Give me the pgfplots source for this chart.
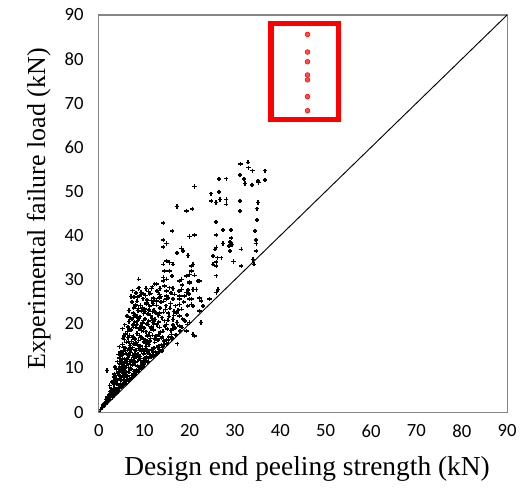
\documentclass[border=0pt]{standalone}
\usepackage{fontspec}
\setmainfont{Liberation Serif}
\newfontfamily\tickfont{Carlito}
\usepackage{pgfplots}
\pgfplotsset{compat=1.18}
\definecolor{axgray}{RGB}{134,134,134}

\pgfplotstableread{
x y
0.4 0.6
0.7 1.0
0.9 1.6
1.1 1.3
1.3 2.1
1.5 1.7
1.6 2.8
1.8 2.2
1.9 3.4
1.8 9.4
2.1 2.6
2.2 3.9
2.3 3.1
2.5 4.6
2.6 2.9
2.7 5.3
2.8 3.6
2.9 4.2
2.4 6.0
2.9 6.8
3.0 3.4
3.1 5.0
3.2 4.1
3.3 6.2
3.4 3.9
3.5 7.4
3.5 5.6
3.6 4.5
3.7 8.3
3.8 6.7
3.9 4.3
3.9 9.6
3.3 7.9
3.6 10.2
4.0 5.1
4.0 7.2
4.1 11.4
4.2 4.6
4.2 8.8
4.3 6.0
4.4 9.9
4.4 5.3
4.5 12.3
4.6 7.5
4.6 10.8
4.7 5.6
4.7 8.2
4.8 13.6
4.8 6.4
4.9 9.3
4.9 11.7
4.5 14.8
5.0 5.7
5.0 7.9
5.1 10.2
5.1 12.9
5.2 6.3
5.2 15.3
5.3 8.7
5.3 11.1
5.4 6.0
5.4 13.8
5.5 9.6
5.5 7.2
5.6 16.4
5.6 12.0
5.7 6.6
5.7 10.5
5.8 14.5
5.8 8.3
5.9 17.7
5.9 11.5
5.2 18.9
5.7 19.8
6.0 6.5
6.0 9.1
6.1 13.2
6.1 15.8
6.2 7.3
6.2 11.0
6.3 18.2
6.3 8.2
6.4 12.4
6.4 16.9
6.5 7.0
6.5 10.1
6.6 14.3
6.6 20.5
6.7 9.0
6.7 12.9
6.8 7.6
6.8 17.4
6.9 11.4
6.9 15.1
6.2 21.8
6.6 23.0
6.4 19.3
7.0 7.5
7.0 13.5
7.1 9.8
7.1 18.6
7.2 11.9
7.2 16.0
7.3 8.3
7.3 21.1
7.4 14.6
7.4 10.6
7.5 19.7
7.5 12.8
7.6 8.0
7.6 17.1
7.7 23.6
7.7 10.9
7.8 15.4
7.8 9.2
7.9 13.9
7.9 20.4
7.3 24.9
7.6 22.4
7.1 26.2
8.0 8.6
8.0 16.6
8.1 11.3
8.1 22.0
8.2 14.0
8.2 19.2
8.3 9.5
8.3 12.5
8.4 17.8
8.4 25.1
8.5 10.4
8.5 15.2
8.6 20.8
8.6 13.1
8.7 9.1
8.7 23.5
8.8 16.2
8.8 11.8
8.9 18.9
8.9 14.4
8.2 27.0
8.5 26.1
9.0 9.8
9.0 17.4
9.1 12.6
9.1 21.6
9.2 15.0
9.2 24.2
9.3 10.6
9.3 19.5
9.4 13.7
9.4 22.9
9.5 11.4
9.5 16.8
9.6 20.2
9.6 14.3
9.7 10.2
9.7 25.7
9.8 18.3
9.8 12.1
9.9 15.9
9.9 22.3
10.0 10.9
10.0 19.0
10.1 13.8
10.1 23.4
10.2 16.4
10.2 21.1
10.3 11.6
10.3 26.4
10.4 14.9
10.4 18.2
10.5 12.5
10.5 24.5
10.6 20.0
10.6 16.0
10.7 11.3
10.8 22.2
10.8 13.4
10.9 17.6
10.9 27.3
11.0 12.1
11.0 20.6
11.1 15.3
11.2 18.0
11.2 24.0
11.3 13.0
11.4 21.9
11.4 16.7
11.5 12.4
11.6 19.3
11.6 25.3
11.7 14.2
11.8 22.8
11.8 17.4
11.9 13.1
11.9 20.3
12.0 13.5
12.1 18.6
12.2 23.0
12.3 15.8
12.4 21.0
12.5 13.6
12.6 17.2
12.7 24.2
12.8 19.8
12.9 14.6
12.9 22.1
13.0 16.3
13.2 20.4
13.3 14.2
13.5 23.6
13.6 18.1
13.8 15.2
13.9 21.4
14.0 17.0
14.2 22.6
14.4 15.3
14.6 19.5
14.8 24.1
14.9 16.4
15.2 20.8
15.4 17.0
15.7 23.5
15.9 18.5
16.2 16.8
16.5 21.9
16.8 19.0
7.4 27.5
7.8 26.0
8.1 24.3
8.9 28.2
9.3 27.1
9.6 23.6
9.1 19.0
9.9 26.8
8.4 21.5
10.1 12.0
10.3 14.3
10.5 15.6
10.7 17.2
10.9 19.8
10.2 22.8
10.6 25.4
10.4 28.0
11.0 11.5
11.1 13.9
11.3 16.1
11.5 18.9
11.7 21.2
11.1 23.1
11.9 24.6
11.4 26.9
11.8 28.4
12.0 12.6
12.2 14.5
12.4 16.6
12.1 20.0
12.6 22.4
12.3 25.7
12.8 27.4
12.5 12.9
13.0 13.4
13.1 15.0
13.3 17.6
13.4 19.2
13.2 21.9
13.7 24.9
13.6 26.2
13.9 13.8
13.8 16.7
13.5 28.0
14.0 14.6
14.3 16.1
14.1 18.3
14.5 20.7
14.7 23.2
14.3 25.1
14.9 27.4
15.0 15.4
15.3 16.2
15.1 18.8
15.5 21.7
15.8 24.6
15.3 25.9
15.9 27.0
16.0 16.4
16.3 19.7
16.6 22.8
16.9 24.1
16.1 30.8
17.0 17.5
17.2 20.3
17.5 23.0
17.7 27.4
17.9 18.4
18.3 19.2
18.5 21.1
18.7 24.9
18.9 26.3
18.4 28.8
19.0 20.6
19.4 22.0
19.6 24.0
19.9 26.8
19.5 19.9
3.0 4.6
3.2 6.8
3.4 8.6
3.7 5.2
3.8 7.6
4.1 6.5
4.3 9.2
4.5 11.0
4.7 12.8
4.3 13.1
4.9 7.4
5.0 9.0
5.2 11.9
5.4 14.6
5.6 17.2
5.8 9.9
5.9 13.3
5.3 16.7
6.0 8.1
6.1 10.6
6.3 14.0
6.5 15.9
6.7 18.8
6.9 21.4
6.2 12.0
6.8 13.9
7.0 10.8
7.2 14.2
7.4 16.9
7.6 19.2
7.8 21.9
7.5 11.3
7.9 12.1
8.0 13.2
8.2 15.6
8.4 19.9
8.6 23.0
8.8 10.1
8.9 21.2
9.0 14.0
9.2 16.9
9.4 18.5
9.6 11.2
9.8 20.7
9.9 13.2
12.3 29.0
14.2 29.7
17.8 29.7
20.0 29.3
21.9 29.7
25.9 27.1
20.8 27.8
19.3 27.1
16.7 26.7
14.9 26.3
13.4 26.7
11.2 26.7
17.8 25.6
20.4 25.6
22.6 25.2
24.4 25.6
17.8 24.4
20.8 24.0
15.3 22.5
17.1 22.5
18.2 23.3
22.2 22.9
17.8 21.8
16.4 21.0
20.0 20.3
22.5 20.3
17.8 19.5
16.4 18.8
19.3 18.4
20.8 17.6
16.0 17.6
14.9 19.9
13.4 22.5
21.1 17.2
17.3 15.5
20.4 24.4
26.3 27.8
31.2 56.2
32.9 56.6
33.0 55.4
33.9 54.7
36.6 54.7
31.1 53.7
32.0 52.8
32.2 51.8
33.8 51.5
35.1 52.4
35.2 52.0
36.6 52.6
21.1 51.1
26.5 52.8
28.1 52.9
24.7 49.5
26.5 49.9
28.1 48.2
24.8 47.8
25.8 47.5
26.7 48.2
28.1 47.1
31.1 47.8
31.1 45.6
35.1 47.5
34.9 46.1
19.3 45.6
20.6 46.0
34.9 43.5
25.8 43.1
27.4 41.3
29.1 41.3
34.4 41.0
20.0 39.8
21.1 40.1
25.9 40.1
29.2 39.5
28.9 38.5
29.4 38.0
28.7 37.6
27.4 38.2
34.6 39.0
34.7 38.2
31.4 36.9
18.2 37.1
18.6 36.5
25.9 37.3
28.9 36.5
19.7 35.5
25.2 35.4
26.1 35.0
27.0 35.0
25.9 34.0
25.2 33.5
25.9 33.1
29.7 34.1
34.0 34.6
34.2 33.5
20.8 33.5
20.4 33.1
31.4 33.1
20.0 31.2
21.1 31.0
34.7 36.5
25.6 36.9
25.9 30.9
17.2 46.6
14.2 42.9
16.2 41.0
14.2 39.0
14.9 38.2
14.2 37.4
17.2 36.1
14.9 34.2
15.6 33.9
16.4 33.5
14.2 33.5
14.5 32.0
15.6 32.0
20.4 32.0
14.2 30.5
14.9 30.1
18.2 30.1
19.3 30.8
20.0 29.5
22.2 29.7
8.8 30.1
12.7 29.0
14.5 28.6
15.6 28.2
16.4 28.0
11.6 28.0
8.7 28.0
13.1 27.1
18.2 27.8
19.7 27.7
21.5 27.8
9.0 26.3
12.0 25.9
13.4 25.8
14.9 25.6
17.8 26.3
20.0 25.6
22.2 25.9
7.9 24.0
10.5 24.8
12.7 25.2
16.4 25.6
23.0 24.0
}\measured

\pgfplotstableread{
x y
46.0 85.6
46.0 81.6
46.0 79.4
46.0 76.4
46.0 75.3
46.0 71.5
46.0 68.3
}\marked

\begin{document}
\begin{tikzpicture}
\begin{axis}[
  at={(0,0)}, anchor=south west,
  scale only axis, width=306.75pt, height=298.3pt,
  xmin=0, xmax=90, ymin=0, ymax=90,
  xtick={0,10,...,90}, ytick={0,10,...,90},
  major tick length=0pt,
  axis line style={axgray, line width=0.8pt},
  tick label style={font=\tickfont\fontsize{14}{14}\selectfont, text=black},
  /pgf/number format/assume math mode=true,
  xticklabel style={yshift=-6pt},
  yticklabel style={xshift=-8pt},
  xlabel={Design end peeling strength (kN)},
  ylabel={Experimental failure load (kN)},
  every axis x label/.style={at={(axis description cs:0.51,-0.144)}, anchor=center,
    font=\fontsize{20.6}{20.6}\selectfont},
  every axis y label/.style={at={(axis description cs:-0.147,0.512)}, rotate=90, anchor=center,
    font=\fontsize{19.5}{19.5}\selectfont},
  clip=false,
]
  \addplot[black, line width=0.7pt] coordinates {(0,0) (90,90)};
  \addplot[only marks, mark=+, mark size=1.6pt, black, line width=1.1pt] table {\measured};
  \addplot[only marks, mark=*, mark size=1.8pt, red, fill=red!70] table {\marked};
  \draw[red, line width=4.3pt] (axis cs:37.9,66.3) rectangle (axis cs:52.8,88.1);
\end{axis}
\path (-74.25pt,-61pt) rectangle (316.5pt,309.55pt);
\end{tikzpicture}
\end{document}
